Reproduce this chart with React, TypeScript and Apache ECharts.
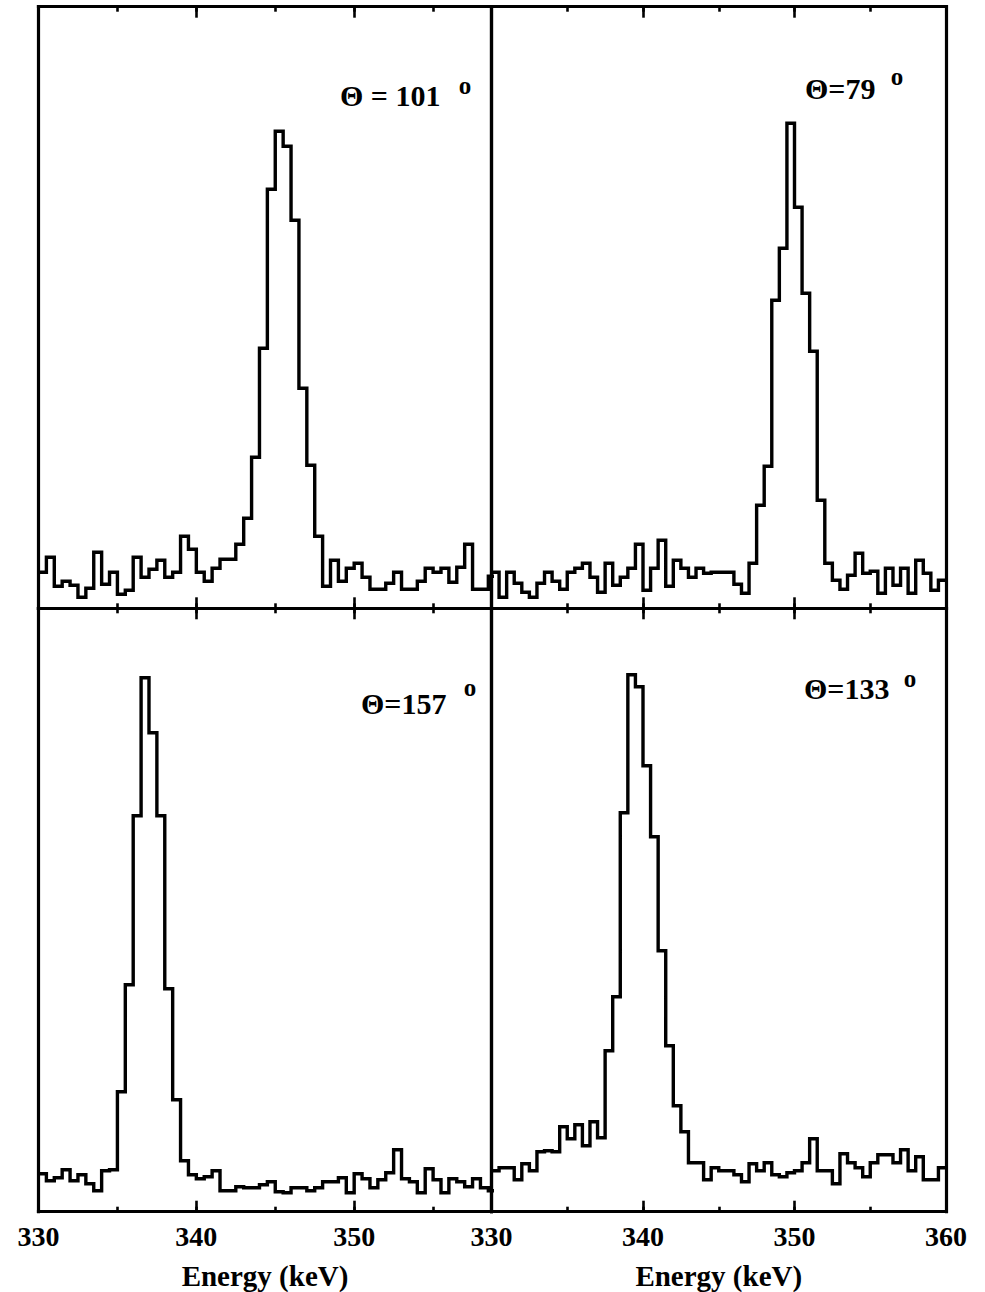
import React, { useEffect, useRef } from "react";
import * as echarts from "echarts";

// ---- data (counts per 0.5 keV bin, arbitrary units) ----
const BIN_START = 330;
const BIN_WIDTH = 0.5;

const counts101 = [
  36, 51, 22, 27, 23, 11, 20, 56, 24, 36,
  14, 18, 51, 31, 39, 48, 31, 36, 72, 59,
  36, 27, 40, 49, 49, 64, 90, 151, 260, 419,
  477, 462, 388, 220, 143, 72, 22, 48, 27, 40,
  45, 31, 19, 19, 25, 36, 19, 19, 27, 40,
  36, 40, 26, 41, 64, 19, 19, 32,
];
const counts79 = [
  36, 11, 36, 25, 16, 11, 25, 36, 27, 19,
  36, 40, 45, 31, 16, 45, 23, 31, 40, 64,
  18, 40, 68, 22, 48, 40, 31, 40, 35, 36,
  36, 36, 24, 15, 45, 103, 142, 308, 360, 485,
  401, 315, 257, 108, 45, 28, 19, 33, 55, 35,
  37, 15, 40, 23, 40, 15, 48, 35, 18, 28,
];
const counts157 = [
  38, 31, 34, 42, 31, 37, 28, 21, 41, 42,
  120, 227, 396, 534, 479, 396, 223, 112, 51, 37,
  33, 35, 41, 21, 21, 25, 24, 24, 27, 30,
  20, 19, 24, 24, 21, 24, 30, 30, 34, 19,
  38, 33, 24, 32, 39, 62, 33, 30, 19, 43,
  32, 19, 33, 30, 25, 33, 24, 21,
];
const counts133 = [
  41, 44, 44, 32, 48, 41, 60, 61, 60, 85,
  73, 87, 66, 90, 74, 161, 215, 399, 537, 525,
  446, 375, 261, 166, 106, 80, 49, 49, 32, 44,
  41, 41, 37, 30, 48, 41, 49, 37, 35, 39,
  41, 49, 73, 41, 41, 28, 58, 49, 44, 35,
  49, 57, 57, 49, 62, 41, 55, 32, 32, 44,
];

const thetaTexts = ["Θ = 101", "Θ=79", "Θ=157", "Θ=133"];
const degreeText = "o";
const xAxisName = "Energy (keV)";
const xMin = 330;
const xMaxLeft = 358.7;
const xMaxRight = 360;
const tickMajor = 10;
const tickMinor = 5;

// ---- layout ----
const W = 985;
const H = 1292;
const X0 = 38.5;
const XM = 491.5;
const X1 = 946;
const Y0 = 6.7;
const YM = 608.3;
const Y1 = 1211.7;

const SERIF = '"Liberation Serif", "Times New Roman", serif';

function histData(counts: number[]) {
  const pts: [number, number][] = counts.map((c, i) => [BIN_START + i * BIN_WIDTH, c]);
  pts.push([BIN_START + counts.length * BIN_WIDTH, counts[counts.length - 1]]);
  return pts;
}

export default function App() {
  const ref = useRef<HTMLDivElement>(null);

  useEffect(() => {
    if (!ref.current) return;
    const chart = echarts.init(ref.current, null, { renderer: "svg" });

    const panels = [
      { counts: counts101, xMax: xMaxLeft, bottomRow: false, grid: { left: X0, top: Y0, width: XM - X0, height: YM - Y0 }, yMax: YM - Y0 },
      { counts: counts79, xMax: xMaxRight, bottomRow: false, grid: { left: XM, top: Y0, width: X1 - XM, height: YM - Y0 }, yMax: YM - Y0 },
      { counts: counts157, xMax: xMaxLeft, bottomRow: true, grid: { left: X0, top: YM, width: XM - X0, height: Y1 - YM }, yMax: Y1 - YM },
      { counts: counts133, xMax: xMaxRight, bottomRow: true, grid: { left: XM, top: YM, width: X1 - XM, height: Y1 - YM }, yMax: Y1 - YM },
    ];

    const lineStyle = { color: "#000", width: 3.2, cap: "square" as const };
    const tickStyle = { color: "#000", width: 2.6 };

    const grids: any[] = [];
    const xAxes: any[] = [];
    const yAxes: any[] = [];
    const series: any[] = [];

    panels.forEach((p, g) => {
      grids.push({ ...p.grid, outerBoundsMode: "none", containLabel: false });
      const base = {
        type: "value",
        gridIndex: g,
        min: xMin,
        max: p.xMax,
        splitLine: { show: false },
      };
      // bottom major
      xAxes.push({
        ...base,
        position: "bottom",
        interval: tickMajor,
        axisLine: { show: true, onZero: false, lineStyle },
        axisTick: { show: true, inside: true, length: 11, lineStyle: tickStyle },
        axisLabel: {
          show: p.bottomRow,
          margin: 11,
          color: "#000",
          fontFamily: SERIF,
          fontSize: 28,
          fontWeight: "bold",
          formatter: (v: number) => (Math.abs(v % tickMajor) < 1e-6 ? String(v) : ""),
        },
        name: p.bottomRow ? xAxisName : "",
        nameLocation: "middle",
        nameGap: 50,
        nameTextStyle: { color: "#000", fontFamily: SERIF, fontSize: 29, fontWeight: "bold" },
      });
      // bottom minor
      xAxes.push({
        ...base,
        position: "bottom",
        interval: tickMinor,
        axisLine: { show: false, onZero: false },
        axisTick: { show: true, inside: true, length: 5, lineStyle: tickStyle },
        axisLabel: { show: false },
      });
      // top major
      xAxes.push({
        ...base,
        position: "top",
        interval: tickMajor,
        axisLine: { show: true, onZero: false, lineStyle },
        axisTick: { show: true, inside: true, length: 11, lineStyle: tickStyle },
        axisLabel: { show: false },
      });
      // top minor
      xAxes.push({
        ...base,
        position: "top",
        interval: tickMinor,
        axisLine: { show: false, onZero: false },
        axisTick: { show: true, inside: true, length: 5, lineStyle: tickStyle },
        axisLabel: { show: false },
      });
      const ybase = {
        type: "value",
        gridIndex: g,
        min: 0,
        max: p.yMax,
        axisTick: { show: false },
        axisLabel: { show: false },
        splitLine: { show: false },
      };
      yAxes.push({ ...ybase, position: "left", axisLine: { show: true, onZero: false, lineStyle } });
      yAxes.push({ ...ybase, position: "right", axisLine: { show: true, onZero: false, lineStyle } });

      series.push({
        type: "line",
        xAxisIndex: g * 4,
        yAxisIndex: g * 2,
        step: "end",
        data: histData(p.counts),
        symbol: "none",
        showSymbol: false,
        clip: true,
        silent: true,
        lineStyle: { color: "#000", width: 3.4, join: "miter" },
      });
    });

    const labelPos = [
      { x: 340, y: 95, dx: 465, dy: 85 },
      { x: 805, y: 88, dx: 897, dy: 76 },
      { x: 361, y: 703, dx: 470, dy: 687 },
      { x: 804, y: 688, dx: 910, dy: 678 },
    ];
    const graphic: any[] = [];
    thetaTexts.forEach((t, i) => {
      const lp = labelPos[i];
      graphic.push({
        type: "text",
        x: lp.x,
        y: lp.y,
        silent: true,
        style: {
          text: t,
          font: `bold 30px ${SERIF}`,
          fill: "#000",
          align: "left",
          verticalAlign: "middle",
          textAlign: "left",
          textVerticalAlign: "middle",
        },
      });
      graphic.push({
        type: "text",
        x: lp.dx,
        y: lp.dy,
        silent: true,
        style: {
          text: degreeText,
          font: `bold 25px ${SERIF}`,
          fill: "#000",
          align: "center",
          verticalAlign: "middle",
          textAlign: "center",
          textVerticalAlign: "middle",
        },
      });
    });

    chart.setOption({
      animation: false,
      backgroundColor: "#fff",
      grid: grids,
      xAxis: xAxes,
      yAxis: yAxes,
      series,
      graphic,
    });

    return () => chart.dispose();
  }, []);

  return (
    <div
      ref={ref}
      style={{ position: "absolute", left: 0, top: 0, width: W, height: H, background: "#fff" }}
    />
  );
}
